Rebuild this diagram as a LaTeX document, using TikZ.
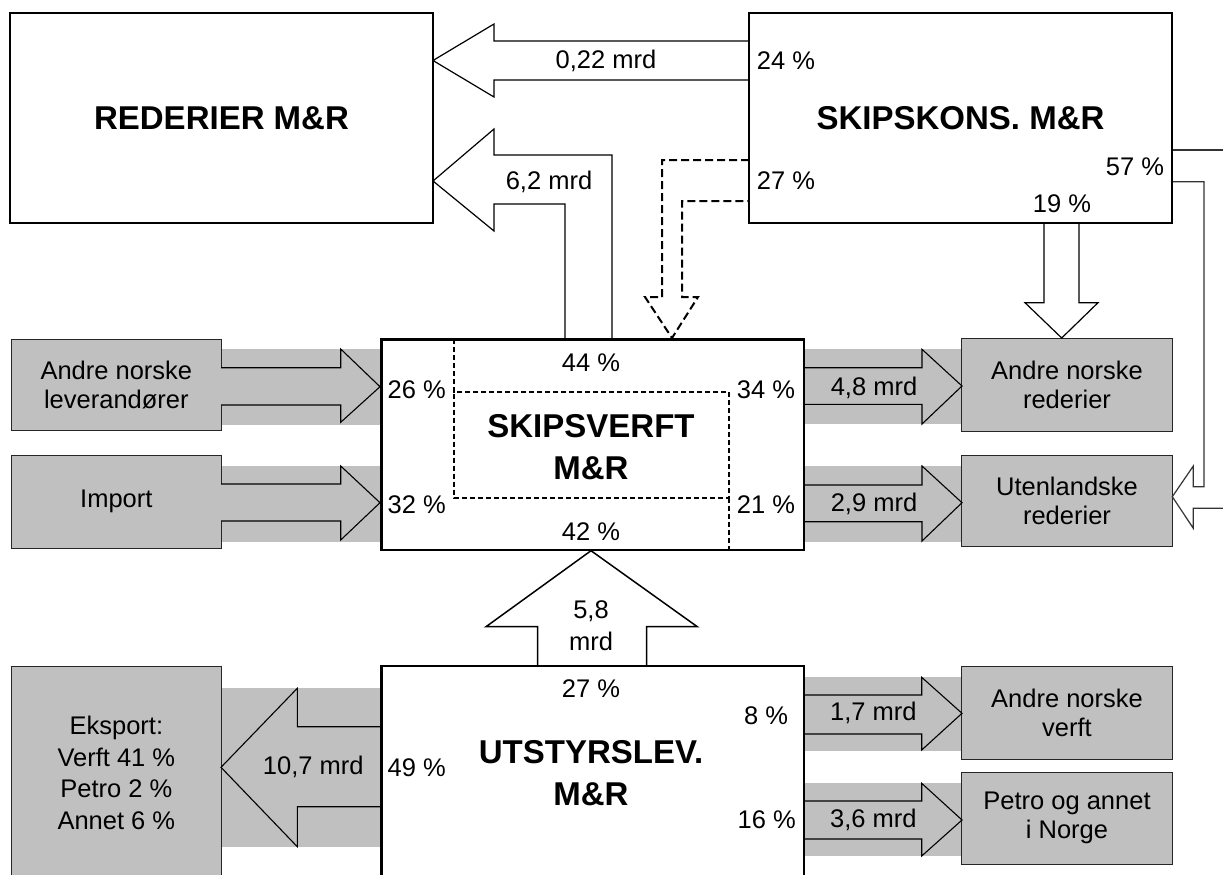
\documentclass[tikz,border=0pt]{standalone}
\usepackage{fontspec}
\setmainfont{Liberation Sans}
\definecolor{boxgray}{HTML}{C0C0C0}
\begin{document}
\begin{tikzpicture}[
  x=1pt, y=-1pt,
  thickbox/.style={draw, line width=2.5pt, fill=white},
  graybox/.style={draw=black!85, line width=1pt, fill=boxgray},
  band/.style={fill=boxgray},
  whitearrow/.style={draw, line width=1.2pt, fill=white, line join=miter},
  grayarrow/.style={draw, line width=1.1pt, fill=boxgray, line join=miter},
  dasharrow/.style={draw, line width=2pt, dash pattern=on 8pt off 4pt},
  innerdash/.style={draw, line width=1.6pt, dash pattern=on 5pt off 3pt},
  thinline/.style={draw=black!80, line width=1.2pt},
  lbl/.style={font=\fontsize{25.5}{29}\selectfont, inner sep=0pt, align=center},
  ttl/.style={font=\fontsize{33}{42}\selectfont\bfseries, inner sep=0pt, align=center},
]
\clip (0,0) rectangle (1223,875);
\fill[white] (0,0) rectangle (1223,875);

% ---------- gray bands behind the grey arrows ----------
\fill[band] (221,349) rectangle (381.7,425);
\fill[band] (221,466) rectangle (381.7,541.7);
\fill[band] (803.3,349.3) rectangle (962,424);
\fill[band] (803.3,466) rectangle (962,541.7);
\fill[band] (803.3,677.3) rectangle (962,750.7);
\fill[band] (803.3,783.3) rectangle (962,856);
\fill[band] (221,688.3) rectangle (381.7,846.7);

% ---------- grey boxes ----------
\node[graybox, minimum width=209.3pt, minimum height=91.4pt, lbl] (lev) at (116.35,385) {Andre norske\\leverandører};
\node[graybox, minimum width=209.3pt, minimum height=93.3pt, lbl] (imp) at (116.35,501.7) {Import};
\draw[graybox] (11.7,666.7) rectangle (221,900);
\node[lbl, font=\fontsize{25.5}{31.5}\selectfont] (eks) at (116.35,773) {Eksport:\\Verft 41 \%\\Petro 2 \%\\Annet 6 \%};
\node[graybox, minimum width=210.6pt, minimum height=93.7pt, lbl] (ared) at (1067,384.85) {Andre norske\\rederier};
\node[graybox, minimum width=210.6pt, minimum height=91.7pt, lbl] (uten) at (1067,500.85) {Utenlandske\\rederier};
\node[graybox, minimum width=210.6pt, minimum height=92.3pt, lbl] (verft) at (1067,712.85) {Andre norske\\verft};
\node[graybox, minimum width=210.6pt, minimum height=91.7pt, lbl] (petro) at (1067,818.15) {Petro og annet\\i Norge};

% ---------- grey block arrows ----------
\draw[grayarrow] (221,367.7) -- (340.7,367.7) -- (340.7,349) -- (380,386.7) -- (340.7,422.3) -- (340.7,405) -- (221,405);
\draw[grayarrow] (221,484) -- (340.7,484) -- (340.7,466) -- (380,502.7) -- (340.7,540) -- (340.7,521) -- (221,521);
\draw[grayarrow] (804,367.7) -- (922,367.7) -- (922,349.3) -- (962,386) -- (922,424) -- (922,404.3) -- (804,404.3);
\draw[grayarrow] (804,485) -- (922,485) -- (922,466) -- (962,502.7) -- (922,541) -- (922,521.7) -- (804,521.7);
\draw[grayarrow] (804,695) -- (921.7,695) -- (921.7,677.3) -- (962,713.3) -- (921.7,750) -- (921.7,734) -- (804,734);
\draw[grayarrow] (804,801) -- (921.7,801) -- (921.7,783.3) -- (962,820) -- (921.7,856) -- (921.7,839) -- (804,839);
\draw[grayarrow] (381.7,726.7) -- (297.3,726.7) -- (297.3,688.3) -- (221,767.3) -- (297.3,846.7) -- (297.3,806.7) -- (381.7,806.7);

% ---------- white block arrows ----------
\draw[whitearrow] (749,41) -- (494,41) -- (494,24) -- (433,60.5) -- (494,97) -- (494,80) -- (749,80);
\draw[whitearrow] (612,338) -- (612,155) -- (494,155) -- (494,129) -- (433,181) -- (494,231) -- (494,204) -- (565,204) -- (565,338);
\draw[whitearrow] (1044,223) -- (1044,302.7) -- (1025,302.7) -- (1061.7,338) -- (1098,302.7) -- (1079,302.7) -- (1079,223);
\draw[whitearrow, line width=1.5pt] (537.7,666) -- (537.7,626.7) -- (486,626.7) -- (591,550.7) -- (697.3,626.7) -- (646.7,626.7) -- (646.7,666);
\draw[thinline] (1172,150) -- (1240,150);
\draw[thinline, fill=white, line join=miter] (1172,181.7) -- (1204,181.7) -- (1204,486.7) -- (1193.3,486.7) -- (1193.3,466) -- (1172.3,496.7) -- (1193.3,528.3) -- (1193.3,508.3) -- (1240,508.3);

% dashed arrow
\draw[dasharrow, line join=miter] (749,160) -- (662,160) -- (662,297) -- (645,297) -- (672,338) -- (698,297) -- (682,297) -- (682,201) -- (749,201);

% ---------- main boxes ----------
\node[thickbox, minimum width=423pt, minimum height=210pt, ttl] (rederier) at (221.5,118) {REDERIER M\&R};
\node[thickbox, minimum width=423pt, minimum height=210pt, ttl] (skipskons) at (960.5,118) {SKIPSKONS. M\&R};
\node[thickbox, minimum width=422.3pt, minimum height=210.7pt] (skipsverft) at (592.85,444.65) {};
\draw[thickbox] (381.7,666) rectangle (804,900);

% inner dashed frame of SKIPSVERFT
\draw[innerdash] (454,339.3) -- (454,392) -- (729,392) -- (729,498) -- (454,498) -- (454,392);
\draw[innerdash] (729,498) -- (729,549);

\node[ttl] (svtitle) at (591,447) {SKIPSVERFT\\M\&R};
\node[ttl] (uttitle) at (591,773) {UTSTYRSLEV.\\M\&R};

% ---------- labels ----------
\node[lbl] (l022) at (606,61) {0,22 mrd};
\node[lbl] (l62) at (549,181.7) {6,2 mrd};
\node[lbl] (p24) at (786,61) {24 \%};
\node[lbl] (p27a) at (786,181) {27 \%};
\node[lbl] (p57) at (1135,166.7) {57 \%};
\node[lbl] (p19) at (1062,203.3) {19 \%};
\node[lbl] (p44) at (591,363) {44 \%};
\node[lbl] (p26) at (416.7,389.3) {26 \%};
\node[lbl] (p34) at (766,389.3) {34 \%};
\node[lbl] (p32) at (416.7,505) {32 \%};
\node[lbl] (p21) at (766,505) {21 \%};
\node[lbl] (p42) at (591,531.7) {42 \%};
\node[lbl] (l48) at (874,388.3) {4,8 mrd};
\node[lbl] (l29) at (874,504) {2,9 mrd};
\node[lbl] (l58a) at (591,611) {5,8};
\node[lbl] (l58b) at (591,641.7) {mrd};
\node[lbl] (p27b) at (591,689) {27 \%};
\node[lbl] (p8) at (766,715.7) {8 \%};
\node[lbl] (p49) at (416.7,767.7) {49 \%};
\node[lbl] (p16) at (766.7,820) {16 \%};
\node[lbl] (l107) at (313.3,767.3) {10,7 mrd};
\node[lbl] (l17) at (873.3,713) {1,7 mrd};
\node[lbl] (l36) at (873.3,820) {3,6 mrd};
\end{tikzpicture}
\end{document}
